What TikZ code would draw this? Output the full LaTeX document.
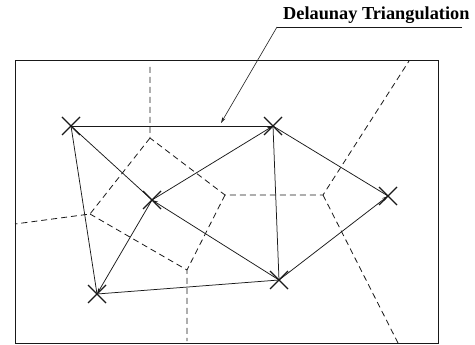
\documentclass[tikz,border=0pt]{standalone}
\usepackage{fontspec}
\setmainfont{Liberation Serif}
\usetikzlibrary{arrows.meta}
\begin{document}
\begin{tikzpicture}[x=1pt,y=-1pt,
  site/.style={inner sep=0pt,minimum size=0pt},
  edge/.style={line width=0.75pt,black!90},
  arr/.style={edge,-{Stealth[length=6pt,width=3.5pt,open]}},
  vor/.style={line width=0.8pt,dash pattern=on 6pt off 4pt,black!90},
  xmark/.style={line width=1.2pt,black!90}]
\useasboundingbox (0,0) rectangle (475,345);
% frame
\draw[line width=0.8pt,black!90] (15,60) rectangle (438,343);
% sites
\coordinate (A) at (71,126);
\coordinate (B) at (273,126);
\coordinate (C) at (152,200);
\coordinate (D) at (388,196);
\coordinate (E) at (97,294);
\coordinate (F) at (279,280);
% voronoi vertices
\coordinate (V1) at (150,138);
\coordinate (V2) at (225,195);
\coordinate (V3) at (90,214);
\coordinate (V4) at (187,270);
\coordinate (V5) at (323,195);
\coordinate (T1) at (150,67);
\coordinate (L1) at (15,224);
\coordinate (B1) at (187,341);
\coordinate (TR) at (409,61);
\coordinate (BR) at (398,343);
\draw[vor] (T1) -- (V1) -- (V2) -- (V5) -- (TR);
\draw[vor] (V1) -- (V3) -- (L1);
\draw[vor] (V3) -- (V4) -- (B1);
\draw[vor] (V2) -- (V4);
\draw[vor] (V5) -- (BR);
% delaunay edges
\draw[edge] (A) -- (B);
\draw[edge] (A) -- (C);
\draw[edge] (A) -- (E);
\draw[edge] (B) -- (F);
\draw[edge] (B) -- (D);
\draw[edge] (E) -- (F);
\draw[arr] (C) -- (B);
\draw[arr] (F) -- (D);
\draw[arr] (C) -- (E);
\draw[arr] (F) -- (C);
% site markers
\foreach \p in {A,B,C,D,E,F}{
  \draw[xmark] ([shift={(-9,-9)}]\p) -- ([shift={(9,9)}]\p);
  \draw[xmark] ([shift={(-9,9)}]\p) -- ([shift={(9,-9)}]\p);
}
% label
\node[site,anchor=base west,font=\fontsize{18.3}{20}\selectfont\bfseries] (lab) at (283,20) {Delaunay Triangulation};
\coordinate (U1) at (277,27);
\coordinate (U2) at (462,27);
\coordinate (tip) at (221,123);
\draw[line width=0.8pt,black!90] (U2) -- (U1);
\draw[line width=0.6pt,black!90,-{Stealth[length=6pt,width=3.5pt,open]}] (U1) -- (tip);
\end{tikzpicture}
\end{document}
